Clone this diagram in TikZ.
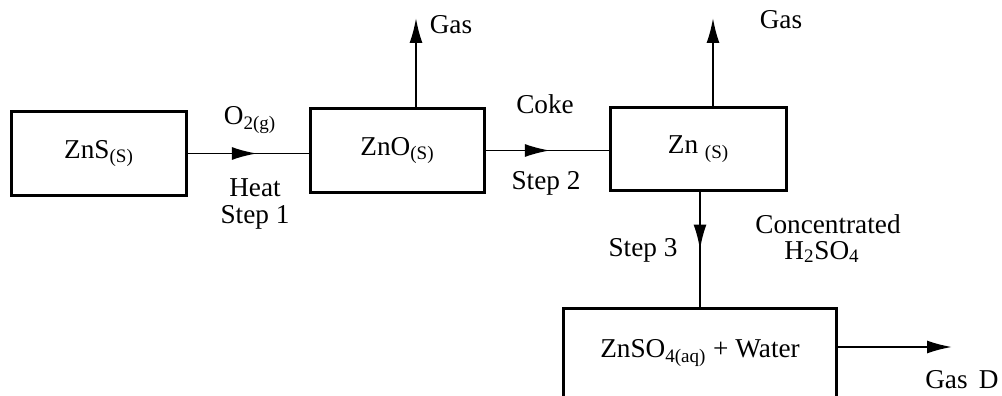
\documentclass[tikz,border=0pt]{standalone}
\usepackage{fontspec}
\setmainfont{Liberation Serif}
\usetikzlibrary{arrows.meta,decorations.markings,calc}

\begin{document}
\begin{tikzpicture}[x=0.02cm,y=0.02cm,font=\fontsize{15.5}{18}\selectfont,
        box/.style={draw,line width=1.7pt,inner sep=0pt},
        flow/.style={line width=1.1pt},
        tip/.style={-{Latex[length=5mm,width=2.6mm]}},
        midarrow/.style={postaction={decorate},decoration={markings,
            mark=at position #1 with {\arrow{Latex[length=5mm,width=2.6mm]}}}}]
        \useasboundingbox (0,0) rectangle (1002,396);

        % Kästen
        \node[box,minimum width=3.52cm,minimum height=1.7cm] (zns) at (99,242.5) {ZnS\textsubscript{(S)}};
        \node[box,minimum width=3.5cm,minimum height=1.7cm] (zno) at (397.5,245.5) {ZnO\textsubscript{(S)}};
        \node[box,minimum width=3.54cm,minimum height=1.68cm] (zn) at (698.5,247) {Zn \textsubscript{(S)}};
        \node[box,minimum width=5.48cm,minimum height=1.8cm] (znso) at (700,43) {ZnSO\textsubscript{4(aq)} + Water};

        \coordinate (gasA) at (416,378);
        \coordinate (gasB) at (713,378);
        \coordinate (gasD) at (952,49);

        % Pfeile
        \draw[flow,midarrow=0.57] (zns.east) -- (zns.east -| zno.west);
        \draw[flow,midarrow=0.52] (zno.east) -- (zno.east -| zn.west);
        \draw[flow,midarrow=0.5] (zn.south -| znso.north) -- (znso.north);
        \draw[flow,tip] (zno.north -| gasA) -- (gasA);
        \draw[flow,tip] (zn.north -| gasB) -- (gasB);
        \draw[flow,tip] ($(znso.east)+(0,6)$) -- (gasD);

        % Beschriftungen
        \node (o2) at (250,276) {O\textsubscript{2(g)}};
        \node (heat) at (255,208) {Heat};
        \node (step1) at (255,179) {Step 1};
        \node (gas1) at (451,371) {Gas};
        \node (coke) at (545,292) {Coke};
        \node (step2) at (546,213) {Step 2};
        \node (gas2) at (781,376) {Gas};
        \node (step3) at (643,146) {Step 3};
        \node (conc) at (828,172) {Concentrated};
        \node (acid) at (822,144) {H\textsubscript{2}SO\textsubscript{4}};
        \node (gasd) at (962,16) {Gas\, D};
    \end{tikzpicture}
\end{document}
